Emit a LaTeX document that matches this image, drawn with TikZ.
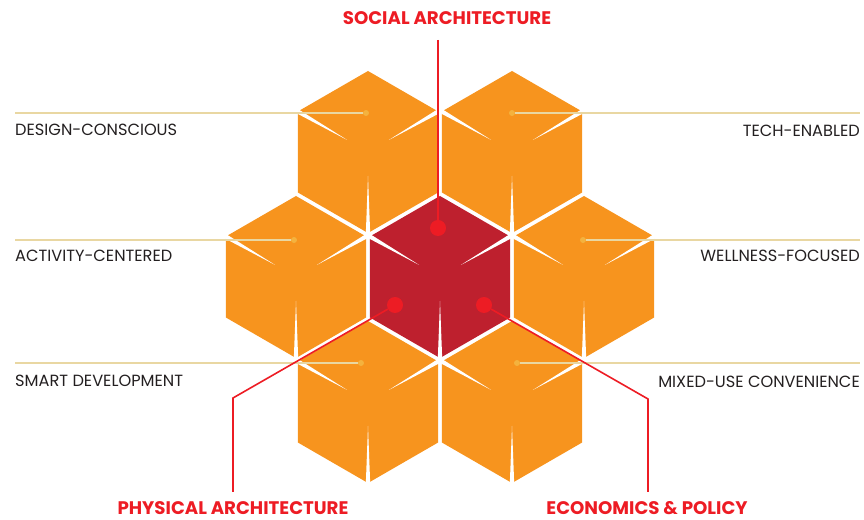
\documentclass[tikz,border=0pt]{standalone}
\usepackage{fontspec}
\setmainfont{Poppins}

\definecolor{cubeorange}{HTML}{F7941E}
\definecolor{cubered}{HTML}{BE202E}
\definecolor{pinred}{HTML}{ED1C24}
\definecolor{guidetan}{HTML}{E9D7A2}
\definecolor{dottan}{HTML}{F4B23E}
\definecolor{labelgray}{HTML}{231F20}

\tikzset{
  crease/.style={fill=white},
  guide/.style={guidetan, line width=1.2pt},
  pin/.style={pinred, line width=1.6pt},
  tandot/.style={circle, fill=dottan, inner sep=0pt, minimum size=6pt},
  reddot/.style={circle, fill=pinred, inner sep=0pt, minimum size=16pt},
  sidelabel/.style={inner sep=0pt, text=labelgray, font=\fontsize{16.2}{19}\selectfont},
  pillar/.style={inner sep=0pt, text=pinred, font=\bfseries\fontsize{18.2}{21}\selectfont}
}

\begin{document}
\begin{tikzpicture}[x=1pt,y=1pt]
  \useasboundingbox (0,0) rectangle (864,519);

  % seven cubes, red one in the middle
  \foreach \x/\y/\c in {368/367/cubeorange, 512/367/cubeorange,
                        296/242/cubeorange, 440/242/cubered, 584/242/cubeorange,
                        368/117/cubeorange, 512/117/cubeorange}{
    \begin{scope}[shift={(\x,\y)}]
      \fill[\c] (90:81) -- (30:81) -- (-30:81) -- (-90:81) -- (-150:81) -- (150:81) -- cycle;
      \foreach \a in {150,30,-90}
        \fill[crease, rotate=\a] (82,2.2) -- (24,0) -- (82,-2.2) -- cycle;
    \end{scope}
  }

  % side labels and their guides
  \node[tandot] (designdot) at (366,406) {};
  \node[tandot] (techdot) at (512,406) {};
  \node[tandot] (activitydot) at (294,279) {};
  \node[tandot] (wellnessdot) at (583,279) {};
  \node[tandot] (smartdot) at (361,156) {};
  \node[tandot] (mixeddot) at (517,156) {};

  \node[sidelabel, anchor=base west] (design) at (15,383) {DESIGN-CONSCIOUS};
  \node[sidelabel, anchor=base west] (activity) at (15,257) {ACTIVITY-CENTERED};
  \node[sidelabel, anchor=base west] (smart) at (15,132) {SMART DEVELOPMENT};
  \node[sidelabel, anchor=base east] (tech) at (860,382) {TECH-ENABLED};
  \node[sidelabel, anchor=base east] (wellness) at (860,257) {WELLNESS-FOCUSED};
  \node[sidelabel, anchor=base east] (mixed) at (860,131) {MIXED-USE CONVENIENCE};

  \draw[guide] (design.west |- designdot) -- (designdot);
  \draw[guide] (activity.west |- activitydot) -- (activitydot);
  \draw[guide] (smart.west |- smartdot) -- (smartdot);
  \draw[guide] (techdot) -- (tech.east |- techdot);
  \draw[guide] (wellnessdot) -- (wellness.east |- wellnessdot);
  \draw[guide] (mixeddot) -- (mixed.east |- mixeddot);

  % the three pillars
  \node[reddot] (socialdot) at (438,291) {};
  \node[reddot] (physicaldot) at (395,214) {};
  \node[reddot] (economicsdot) at (484,214) {};

  \node[pillar, anchor=base] (social) at (447,494) {SOCIAL ARCHITECTURE};
  \node[pillar, anchor=base] (physical) at (233,5) {PHYSICAL ARCHITECTURE};
  \node[pillar, anchor=base] (economics) at (647,5) {ECONOMICS \& POLICY};

  \coordinate (socialtop) at (438,479);
  \coordinate (physicalbend) at (233,121);
  \coordinate (economicsbend) at (648,120);

  \draw[pin] (socialtop) -- (socialdot);
  \draw[pin] (physicalbend |- 0,27) -- (physicalbend) -- (physicaldot);
  \draw[pin] (economicsbend |- 0,27) -- (economicsbend) -- (economicsdot);
\end{tikzpicture}
\end{document}
